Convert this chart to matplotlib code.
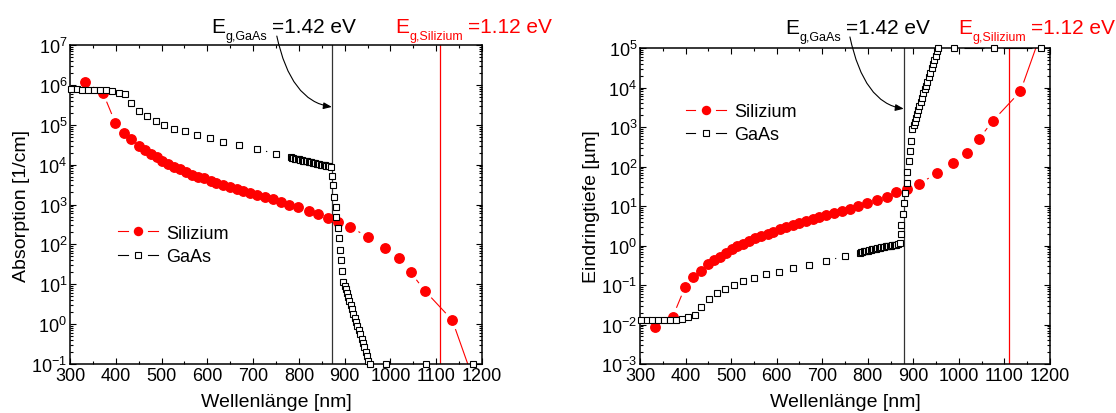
import numpy as np
import matplotlib
matplotlib.use('Agg')
import matplotlib.pyplot as plt
from matplotlib.lines import Line2D
from matplotlib.legend_handler import HandlerBase
from matplotlib.ticker import MultipleLocator, LogLocator, NullFormatter

plt.rcParams['font.family'] = ['Liberation Sans', 'DejaVu Sans']
plt.rcParams['mathtext.fontset'] = 'custom'
plt.rcParams['mathtext.rm'] = 'Liberation Sans'
plt.rcParams['mathtext.default'] = 'regular'
plt.rcParams['axes.unicode_minus'] = False

# Silizium: wavelength [nm] and absorption coefficient [1/cm]
si_wl = [333, 372, 399, 417, 434, 450, 463, 476, 489, 501, 514, 527, 540, 553,
         566, 580, 593, 607, 620, 635, 650, 664, 679, 693, 709, 726, 743, 760,
         779, 799, 821, 842, 863, 885, 912, 952, 988, 1018, 1044, 1075, 1135, 1185]
si_abs = [1.17e6, 6.3e5, 1.12e5, 6.3e4, 4.3e4, 3.0e4, 2.3e4, 1.9e4, 1.55e4, 1.26e4,
          1.05e4, 8.9e3, 7.6e3, 6.5e3, 5.6e3, 5.0e3, 4.5e3, 3.9e3, 3.5e3, 3.1e3,
          2.75e3, 2.4e3, 2.15e3, 1.9e3, 1.7e3, 1.5e3, 1.35e3, 1.17e3, 1.0e3, 850,
          690, 575, 455, 365, 275, 150, 83, 45, 20, 6.9, 1.26, 0.03]

# GaAs: wavelength [nm] and absorption coefficient [1/cm]
gaas_wl = [303, 315, 327, 340, 353, 366, 379, 392, 406, 420, 434, 451, 468, 487,
           506, 527, 551, 577, 605, 635, 670, 708, 751,
           782, 785, 788, 791, 794, 797, 800, 803, 806, 809, 812, 815, 818, 821,
           824, 827, 830, 833, 836, 839, 842, 845, 848, 851, 854, 857, 860, 863, 866,
           870, 872, 874, 877, 880, 882, 885, 887, 890, 892, 894, 897,
           901, 903, 906, 908, 910, 913, 916, 919, 922, 925, 928, 931, 934, 937,
           940, 943, 946, 949, 952, 955, 990, 1077, 1181]
gaas_abs = [7.9e5, 7.8e5, 7.6e5, 7.6e5, 7.6e5, 7.6e5, 7.6e5, 7.2e5, 6.3e5, 5.8e5,
            3.6e5, 2.24e5, 1.62e5, 1.26e5, 9.8e4, 7.8e4, 6.8e4, 5.4e4, 4.6e4, 3.8e4,
            3.1e4, 2.45e4, 1.86e4,
            1.51e4, 1.48e4, 1.45e4, 1.41e4, 1.41e4, 1.38e4, 1.35e4, 1.32e4, 1.29e4,
            1.26e4, 1.26e4, 1.23e4, 1.20e4, 1.17e4, 1.15e4, 1.15e4, 1.12e4, 1.10e4,
            1.07e4, 1.05e4, 1.05e4, 1.02e4, 1.0e4, 1.0e4, 9.8e3, 9.8e3, 9.5e3, 9.5e3, 9.3e3,
            8.5e3, 5.2e3, 3.0e3, 1.58e3, 850, 480, 257, 141, 74, 41, 22, 11.5,
            9.1, 7.6, 6.0, 4.8, 3.7, 2.95, 2.34, 1.82, 1.41, 1.12, 0.89, 0.71, 0.55,
            0.43, 0.33, 0.26, 0.20, 0.16, 0.12, 0.1, 0.1, 0.1, 0.1]

# penetration depth [um] = 1 / alpha
si_depth = 1e4 / np.array(si_abs)
gaas_depth = 1e4 / np.array(gaas_abs)

RED = '#ff0000'
SI_MS = 6.8
GA_MS = 5.0


def gapped_line(ax, x, y, color, gap=9.5, lw=0.8):
    # Origin style: connecting line interrupted around each marker
    pts = ax.transData.transform(np.column_stack([x, y]))
    inv = ax.transData.inverted()
    for p, q in zip(pts[:-1], pts[1:]):
        d = q - p
        L = np.hypot(*d)
        if L <= 2 * gap + 1:
            continue
        u = d / L
        a = inv.transform(p + u * gap)
        b = inv.transform(q - u * gap)
        ax.plot([a[0], b[0]], [a[1], b[1]], color=color, lw=lw, zorder=2,
                solid_capstyle='butt')


class GapHandler(HandlerBase):
    # legend entry: line - marker - line with gaps around the marker
    def __init__(self, color, marker, ms, mfc, mew=0.0):
        super().__init__()
        self.color, self.marker, self.ms, self.mfc, self.mew = color, marker, ms, mfc, mew

    def create_artists(self, legend, orig_handle, xdescent, ydescent, width, height,
                       fontsize, trans):
        x0 = -xdescent
        x1 = x0 + width
        xc = 0.5 * (x0 + x1)
        g = 0.26 * width
        y = 0.5 * (height - ydescent)
        left = Line2D([x0, xc - g], [y, y], color=self.color, lw=0.8, transform=trans)
        right = Line2D([xc + g, x1], [y, y], color=self.color, lw=0.8, transform=trans)
        mk = Line2D([xc], [y], ls='none', marker=self.marker, ms=self.ms,
                    mfc=self.mfc, mec=self.color, mew=self.mew, transform=trans)
        return [left, right, mk]


def eg_label(ax, x, y, sub, rest, color):
    t1 = ax.text(x, y, 'E', transform=ax.transAxes, fontsize=15, color=color,
                 ha='left', va='baseline', clip_on=False)
    t2 = ax.annotate(sub, xy=(1, 0), xycoords=t1, xytext=(0.5, -4),
                     textcoords='offset points', fontsize=9, color=color,
                     ha='left', va='bottom')
    ax.annotate(rest, xy=(1, 0), xycoords=t2, xytext=(3, 4),
                textcoords='offset points', fontsize=15, color=color,
                ha='left', va='bottom')


def panel(ax, si_y, ga_y, ylim, ylabel, vl_gaas, vl_si, tip_y, arrow_start,
          txt_y, txt_x, leg_xy):
    ax.set_yscale('log')
    ax.set_xlim(300, 1200)
    ax.set_ylim(*ylim)
    ax.xaxis.set_major_locator(MultipleLocator(100))
    ax.xaxis.set_minor_locator(MultipleLocator(50))
    ax.yaxis.set_major_locator(LogLocator(base=10, subs=(1.0,), numticks=30))
    ax.yaxis.set_minor_locator(LogLocator(base=10, subs=np.arange(2, 10), numticks=30))
    ax.yaxis.set_minor_formatter(NullFormatter())
    ax.tick_params(which='both', direction='in', top=True, right=True, width=0.8,
                   labelsize=13, pad=2)
    ax.tick_params(which='major', length=4.5)
    ax.tick_params(which='minor', length=2.5)
    for s in ax.spines.values():
        s.set_linewidth(1.1)

    ax.axvline(vl_gaas, color='#333333', lw=0.9, zorder=1)
    ax.axvline(vl_si, color=RED, lw=0.9, zorder=1)

    gapped_line(ax, si_wl, si_y, RED)
    ax.plot(si_wl, si_y, ls='none', marker='o', ms=SI_MS, color=RED, zorder=3)
    gapped_line(ax, gaas_wl, ga_y, 'black')
    ax.plot(gaas_wl, ga_y, ls='none', marker='s', ms=GA_MS, mfc='white', mec='black',
            mew=0.8, zorder=4, clip_on=False)

    ax.set_xlabel('Wellenlänge [nm]', fontsize=14, labelpad=7)
    ax.set_ylabel(ylabel, fontsize=14, labelpad=1)

    eg_label(ax, txt_x[0], txt_y, 'g,GaAs', '=1.42 eV', 'black')
    eg_label(ax, txt_x[1], txt_y, 'g,Silizium', '=1.12 eV', RED)
    ax.annotate('', xy=(vl_gaas, tip_y), xycoords='data',
                xytext=arrow_start, textcoords='axes fraction',
                arrowprops=dict(arrowstyle='-|>,head_length=0.5,head_width=0.2',
                                color='black', lw=0.8, shrinkA=0, shrinkB=0,
                                connectionstyle='angle3,angleA=-78,angleB=-8'),
                annotation_clip=False)

    h_si = Line2D([], [], color=RED)
    h_ga = Line2D([], [], color='black')
    ax.legend([h_si, h_ga], ['Silizium', 'GaAs'],
              handler_map={h_si: GapHandler(RED, 'o', SI_MS, RED),
                           h_ga: GapHandler('black', 's', GA_MS, 'white', 0.8)},
              loc='center left', bbox_to_anchor=leg_xy, frameon=False, fontsize=13,
              handlelength=2.2, handletextpad=0.45, labelspacing=0.35,
              borderpad=0, borderaxespad=0)


fig = plt.figure(figsize=(11.16, 4.14), dpi=100)
ax1 = fig.add_axes([70 / 1116, 49 / 414, 412 / 1116, 319 / 414])
ax2 = fig.add_axes([640 / 1116, 49 / 414, 410 / 1116, 316 / 414])

panel(ax1, si_abs, gaas_abs, (1e-1, 1e7), 'Absorption [1/cm]', 872, 1108, 2.8e5,
      (0.502, 1.028), 1.040, (0.342, 0.789), (0.1165, 0.374))
panel(ax2, si_depth, gaas_depth, (1e-3, 1e5), 'Eindringtiefe [µm]', 879, 1110, 2.9e3,
      (0.512, 1.035), 1.0465, (0.354, 0.776), (0.112, 0.762))

fig.savefig('out.png', dpi=100)
